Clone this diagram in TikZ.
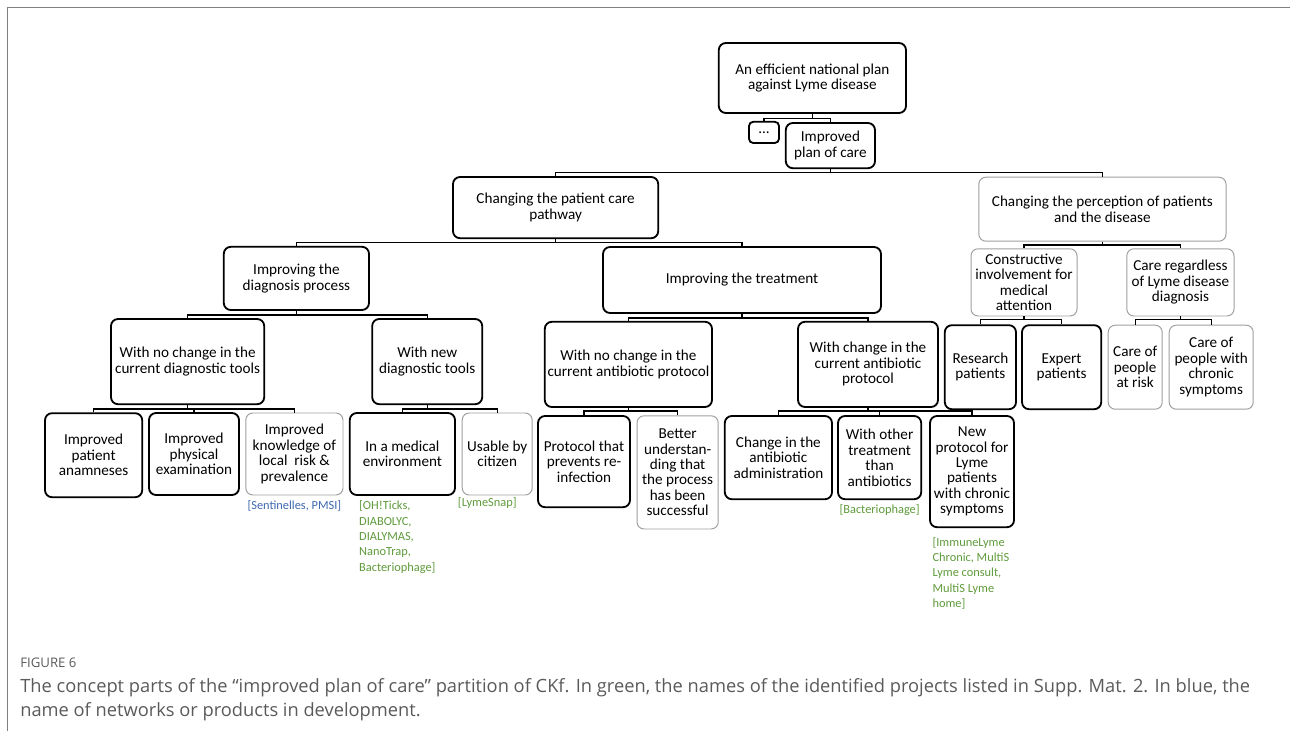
\documentclass[tikz,border=0pt]{standalone}
\usepackage{fontspec}
\setmainfont{Carlito}
\newfontfamily\capfont{Open Sans}
\usepackage{tikz}
\usetikzlibrary{positioning, calc}
\definecolor{projgreen}{HTML}{5E9A3A}
\definecolor{netblue}{HTML}{3F68AE}
\definecolor{capgray}{HTML}{5A5A5A}
\definecolor{framegray}{HTML}{808080}

\begin{document}
\begin{tikzpicture}[font=\fontsize{10.8}{11}\selectfont,
  concept/.style={draw, line width=1.3pt, rounded corners=5pt, align=center, inner sep=1pt},
  concept light/.style={concept, draw=gray!75, line width=0.7pt},
  link/.style={line width=0.9pt},
  project/.style={text=projgreen, align=left, inner sep=0pt, font=\fontsize{8.8}{10.9}\selectfont},
  network/.style={text=netblue, inner sep=0pt, font=\fontsize{8.8}{10.9}\selectfont}]
  \useasboundingbox (0,0) rectangle (32.25,-18.275);
  % Frame
  \draw[framegray, line width=0.6pt] (32.25,-0.175) -- (0.175,-0.175) -- (0.175,-18.275);

  % Top levels
  \node[concept, minimum width=4.68cm, minimum height=1.75cm] (root) at (20.31,-1.95) {An efficient national plan\\against Lyme disease};
  \node[concept, rounded corners=3pt, minimum width=0.75cm, minimum height=0.53cm] (dots) at (19.1,-3.31) {...};
  \node[concept, minimum width=2.23cm, minimum height=1.13cm] (plan) at (20.76,-3.64) {Improved\\plan of care};
  \node[concept, minimum width=5.13cm, minimum height=1.53cm] (pathway) at (13.89,-5.19) {Changing the patient care\\pathway};
  \node[concept light, minimum width=6.18cm, minimum height=1.6cm] (percep) at (27.56,-5.23) {Changing the perception of patients\\and the disease};

  % Care pathway
  \node[concept, minimum width=3.63cm, minimum height=1.58cm] (diag) at (7.41,-6.96) {Improving the\\diagnosis process};
  \node[concept, minimum width=6.95cm, minimum height=1.65cm] (treat) at (18.55,-7.0) {Improving the treatment};
  \node[concept, minimum width=3.83cm, minimum height=2.13cm] (samediag) at (4.69,-9.04) {With no change in the\\current diagnostic tools};
  \node[concept, minimum width=2.75cm, minimum height=2.13cm] (newdiag) at (10.68,-9.04) {With new\\diagnostic tools};
  \node[concept, minimum width=4.18cm, minimum height=2.13cm] (sameab) at (15.71,-9.11) {With no change in the\\current antibiotic protocol};
  \node[concept, minimum width=3.5cm, minimum height=2.13cm] (changeab) at (21.7,-9.11) {With change in the\\current antibiotic\\protocol};

  % Leaves
  \node[concept, minimum width=2.43cm, minimum height=2.1cm] (anamn) at (2.34,-11.38) {Improved\\patient\\anamneses};
  \node[concept, minimum width=2.25cm, minimum height=2.05cm] (physic) at (4.85,-11.35) {Improved\\physical\\examination};
  \node[concept light, minimum width=2.43cm, minimum height=2.05cm] (knowl) at (7.36,-11.35) {Improved\\knowledge of\\local\ \ risk \&\\prevalence};
  \node[concept, minimum width=2.63cm, minimum height=2.05cm] (medenv) at (10.06,-11.35) {In a medical\\environment};
  \node[concept light, minimum width=1.75cm, minimum height=2.05cm] (citizen) at (12.43,-11.35) {Usable by\\citizen};
  \node[concept, minimum width=2.3cm, minimum height=2.28cm] (reinf) at (14.6,-11.54) {Protocol that\\prevents re-\\infection};
  \node[concept light, minimum width=2.03cm, minimum height=2.83cm] (success) at (16.94,-11.81) {Better\\understan-\\ding that\\the process\\has been\\successful};
  \node[concept, minimum width=2.68cm, minimum height=2.08cm] (admin) at (19.46,-11.44) {Change in the\\antibiotic\\administration};
  \node[concept, minimum width=2.08cm, minimum height=2.08cm] (other) at (21.99,-11.44) {With other\\treatment\\than\\antibiotics};
  \node[concept, minimum width=2.1cm, minimum height=2.78cm] (newprot) at (24.3,-11.79) {New\\protocol for\\Lyme\\patients\\with chronic\\symptoms};

  % Perception
  \node[concept light, minimum width=2.65cm, minimum height=1.68cm] (involve) at (25.6,-7.06) {Constructive\\involvement for\\medical\\attention};
  \node[concept light, minimum width=2.68cm, minimum height=1.68cm] (regardless) at (29.51,-7.06) {Care regardless\\of Lyme disease\\diagnosis};
  \node[concept, minimum width=1.78cm, minimum height=2.1cm] (research) at (24.51,-9.18) {Research\\patients};
  \node[concept, minimum width=1.98cm, minimum height=2.1cm] (expert) at (26.54,-9.18) {Expert\\patients};
  \node[concept light, minimum width=1.35cm, minimum height=2.1cm] (atrisk) at (28.38,-9.18) {Care of\\people\\at risk};
  \node[concept light, minimum width=2.1cm, minimum height=2.1cm] (chronic) at (30.28,-9.18) {Care of\\people with\\chronic\\symptoms};

  % Projects and networks
  \node[network, below=0.12cm of knowl] (sentinel) {[Sentinelles, PMSI]};
  \node[project, below right=0.12cm and 0.25cm of medenv.south west] (medproj) {[OH!Ticks,\\DIABOLYC,\\DIALYMAS,\\NanoTrap,\\Bacteriophage]};
  \node[project, below right=0.05cm and -0.1cm of citizen.south west] (snap) {[LymeSnap]};
  \node[project, below=0.1cm of other] (phage) {[Bacteriophage]};
  \node[project, below right=0.22cm and 0.08cm of newprot.south west] (chronproj) {[ImmuneLyme\\Chronic, MultiS\\Lyme consult,\\MultiS Lyme\\home]};

  % Links
  \draw[link] (root.south) -- ++(0,-0.12) -| (dots.north);
  \draw[link] (root.south) -- ++(0,-0.12) -| (plan.north);
  \draw[link] (plan.south) -- ++(0,-0.08) -| (pathway.north);
  \draw[link] (plan.south) -- ++(0,-0.08) -| (percep.north);
  \draw[link] (pathway.south) -- ++(0,-0.08) -| (diag.north);
  \draw[link] (pathway.south) -- ++(0,-0.08) -| (treat.north);
  \draw[link] (diag.south) -- ++(0,-0.1) -| (samediag.north);
  \draw[link] (diag.south) -- ++(0,-0.1) -| (newdiag.north);
  \draw[link] (treat.south) -- ++(0,-0.1) -| (sameab.north);
  \draw[link] (treat.south) -- ++(0,-0.1) -| (changeab.north);
  \draw[link] (samediag.south) -- ++(0,-0.1) -| (anamn.north);
  \draw[link] (samediag.south) -- ++(0,-0.1) -| (physic.north);
  \draw[link] (samediag.south) -- ++(0,-0.1) -| (knowl.north);
  \draw[link] (newdiag.south) -- ++(0,-0.1) -| (medenv.north);
  \draw[link] (newdiag.south) -- ++(0,-0.1) -| (citizen.north);
  \draw[link] (sameab.south) -- ++(0,-0.08) -| (reinf.north);
  \draw[link] (sameab.south) -- ++(0,-0.08) -| (success.north);
  \draw[link] (changeab.south) -- ++(0,-0.08) -| (admin.north);
  \draw[link] (changeab.south) -- ++(0,-0.08) -| (other.north);
  \draw[link] (changeab.south) -- ++(0,-0.08) -| (newprot.north);
  \draw[link] (percep.south) -- ++(0,-0.08) -| (involve.north);
  \draw[link] (percep.south) -- ++(0,-0.08) -| (regardless.north);
  \draw[link] (involve.south) -- ++(0,-0.08) -| (research.north);
  \draw[link] (involve.south) -- ++(0,-0.08) -| (expert.north);
  \draw[link] (regardless.south) -- ++(0,-0.08) -| (atrisk.north);
  \draw[link] (regardless.south) -- ++(0,-0.08) -| (chronic.north);

  % Caption
  \node[font=\capfont\fontsize{9.4}{10}\selectfont, text=capgray, anchor=west, inner sep=0pt] (figlabel) at (0.5,-16.58) {FIGURE 6};
  \node[font=\capfont\fontsize{13}{17}\selectfont, text=capgray, anchor=north west, align=left, inner sep=0pt] (caption) at (0.5,-16.95) {The concept parts of the “improved plan of care” partition of CKf. In green, the names of the identified projects listed in Supp. Mat. 2. In blue, the\\name of networks or products in development.};
\end{tikzpicture}
\end{document}
